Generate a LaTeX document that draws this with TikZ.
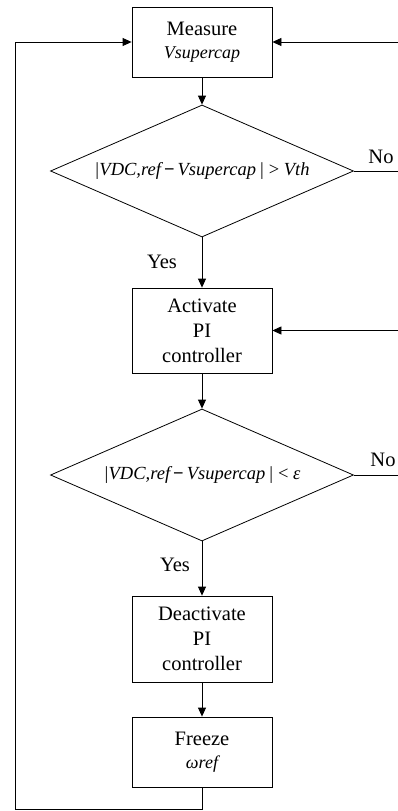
\documentclass[tikz,border=0pt]{standalone}
\usepackage{fontspec}
\setmainfont{Liberation Serif}
\usetikzlibrary{shapes.geometric,arrows.meta}
\begin{document}
\begin{tikzpicture}[x=1pt,y=-1pt,
  every node/.style={font=\fontsize{20.5}{25}\selectfont},
  box/.style={draw, line width=0.8pt, minimum width=140pt, align=center, inner sep=0pt},
  dia/.style={draw, diamond, line width=0.8pt, minimum width=303pt, minimum height=132pt, inner sep=0pt},
  it/.style={font=\fontsize{18.5}{25}\itshape\selectfont},
  arr/.style={line width=0.8pt, -{Triangle[length=9pt,width=8pt]}},
  ln/.style={line width=0.8pt}]
\useasboundingbox (0,0) rectangle (398,811);
\node[box, minimum height=70pt] (b1) at (202,42) {Measure\\[-2pt]{\fontsize{18}{22}\itshape\selectfont Vsupercap}};
\node[dia] (d1) at (202,171) {};
\node[it] (t1) at (d1) {|VDC,ref\,{\upshape\bfseries −}\,Vsupercap\,| {\upshape >} Vth};
\node[box, minimum height=85pt] (b2) at (202,330.5) {Activate\\PI\\controller};
\node[dia] (d2) at (202,475) {};
\node[it] (t2) at (d2) {|VDC,ref\,{\upshape\bfseries −}\,Vsupercap\,| {\upshape <} ε};
\node[box, minimum height=86pt] (b3) at (202,639) {Deactivate\\PI\\controller};
\node[box, minimum height=70pt] (b4) at (202,752) {Freeze\\[-2pt]{\fontsize{18}{22}\itshape\selectfont ωref}};
\node (y1) at (162,262) {Yes};
\node (y2) at (175,565) {Yes};
\node (n1) at (381,157) {No};
\node (n2) at (383,460) {No};
\coordinate (r1) at (398,42);
\coordinate (r2) at (398,330.5);
\coordinate (r3) at (398,171);
\coordinate (r4) at (398,475);
\coordinate (c1) at (202,809);
\coordinate (c2) at (15,809);
\coordinate (c3) at (15,42);
\draw[arr] (b1) -- (d1);
\draw[arr] (d1) -- (b2);
\draw[arr] (b2) -- (d2);
\draw[arr] (d2) -- (b3);
\draw[arr] (b3) -- (b4);
\draw[arr] (r1) -- (b1);
\draw[arr] (r2) -- (b2);
\draw[ln] (d1.east) -- (r3);
\draw[ln] (d2.east) -- (r4);
\draw[arr] (b4.south) -- (c1) -- (c2) -- (c3) -- (b1.west);
\end{tikzpicture}
\end{document}
